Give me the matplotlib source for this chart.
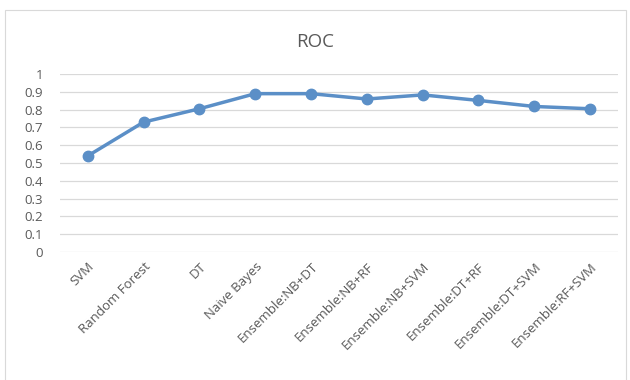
import matplotlib
matplotlib.use("Agg")
import matplotlib.pyplot as plt
from matplotlib.patches import Rectangle

# ROC values per classifier
categories = ["SVM", "Random Forest", "DT", "Naive Bayes", "Ensemble:NB+DT",
              "Ensemble:NB+RF", "Ensemble:NB+SVM", "Ensemble:DT+RF",
              "Ensemble:DT+SVM", "Ensemble:RF+SVM"]
roc = [0.54, 0.73, 0.805, 0.89, 0.89, 0.86, 0.883, 0.852, 0.818, 0.805]
y_ticks = [0, 0.1, 0.2, 0.3, 0.4, 0.5, 0.6, 0.7, 0.8, 0.9, 1]
y_labels = ["0", "0.1", "0.2", "0.3", "0.4", "0.5", "0.6", "0.7", "0.8", "0.9", "1"]

plt.rcParams['font.family'] = ['Open Sans', 'DejaVu Sans']

fig = plt.figure(figsize=(6.3, 3.8), dpi=100)
ax = fig.add_axes([0.095, 0.337, 0.886, 0.468])

# chart border
fig.patches.append(Rectangle((0.008, -0.01), 0.985, 0.985, transform=fig.transFigure,
                             fill=False, edgecolor='#d9d9d9', linewidth=0.8))

x = list(range(len(categories)))
ax.plot(x, roc, color='#5b8fc7', linewidth=2.5, marker='o', markersize=7.5,
        zorder=3)

ax.set_xlim(-0.5, len(categories) - 0.5)
ax.set_ylim(0, 1)
ax.set_yticks(y_ticks)
ax.set_yticklabels(y_labels)
ax.set_xticks(x)
ax.set_xticklabels(categories, rotation=45, ha='right', rotation_mode='anchor')

ax.grid(axis='y', color='#d9d9d9', linewidth=0.9)
ax.set_axisbelow(True)
for s in ax.spines.values():
    s.set_visible(False)
ax.tick_params(axis='both', length=0, colors='#595959', labelsize=9.5)
ax.tick_params(axis='y', pad=12)
ax.tick_params(axis='x', pad=6)

fig.text(0.5, 0.89, "ROC", ha='center', va='center', fontsize=13.5, color='#595959')

fig.savefig("out.png", dpi=100)
